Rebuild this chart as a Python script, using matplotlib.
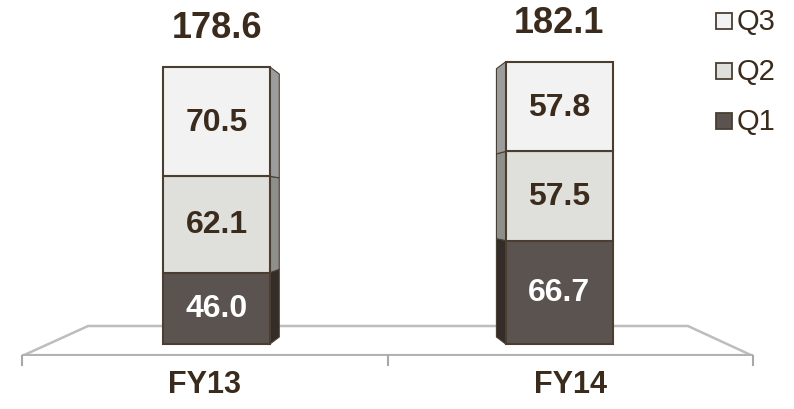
import matplotlib.pyplot as plt
from matplotlib.patches import Polygon

plt.rcParams['font.family'] = ['Liberation Sans', 'DejaVu Sans']

years = ['FY13', 'FY14']
q1 = [46.0, 66.7]
q2 = [62.1, 57.5]
q3 = [70.5, 57.8]
totals = [178.6, 182.1]

txt = '#3b2b1c'
edge = '#4b3d30'
front = {'Q1': '#5b5350', 'Q2': '#dfdfdb', 'Q3': '#f2f2f2'}
side = {'Q1': '#332d2a', 'Q2': '#8e8e8b', 'Q3': '#9c9c9c'}

fig = plt.figure(figsize=(7.94, 4.10), dpi=100)
# axes box in pixels: x 22..753, y 357 (bottom) .. 10 (top)
ax = fig.add_axes([22 / 794, (410 - 357) / 410, 731 / 794, 347 / 410])
ax.set_xlim(-0.568, 1.566)
ax.set_ylim(-7.74, 216)
ax.axis('off')

# floor
floor = Polygon([(-0.568, -7.74), (-0.375, 11.6), (1.376, 11.6), (1.566, -7.74)],
                closed=True, facecolor='white', edgecolor='#bdbdbd', lw=1.8, zorder=1)
ax.add_patch(floor)
ax.plot([-0.568, 1.566], [-7.74, -7.74], color='#b3b1b1', lw=3, zorder=2,
        solid_capstyle='butt')
for xt in [-0.568, 0.499, 1.566]:
    ax.plot([xt, xt], [-7.74, -13.5], color='#a8a8a8', lw=1.5, zorder=2, clip_on=False)

w = 0.312
dx = 0.027
sides = [1, -1]  # FY13 side face on the right, FY14 on the left

for i, yr in enumerate(years):
    segs = [('Q1', q1[i]), ('Q2', q2[i]), ('Q3', q3[i])]
    H = totals[i]
    left = i - w / 2
    right = i + w / 2
    # side face edges
    fx = right if sides[i] > 0 else left
    bx = fx + dx * sides[i]

    def back_y(y):
        return 4.5 + y * (H - 9) / H

    bottom = 0
    for name, v in segs:
        top = bottom + v
        ax.bar(i, v, width=w, bottom=bottom, color=front[name], edgecolor=edge,
               lw=1.5, zorder=4)
        poly = Polygon([(fx, bottom), (bx, back_y(bottom)), (bx, back_y(top)), (fx, top)],
                       closed=True, facecolor=side[name], edgecolor=edge, lw=0.8, zorder=3)
        ax.add_patch(poly)
        col = 'white' if name == 'Q1' else txt
        ax.text(i, bottom + v / 2, f'{v:.1f}', ha='center', va='center', fontsize=23,
                fontweight='bold', color=col, zorder=5)
        bottom = top
    ax.text(i, H + 14, f'{H:.1f}', ha='center', va='bottom', fontsize=26,
            fontweight='bold', color=txt)

# category labels, centred between floor ticks
for xc, yr in zip([-0.035, 1.032], years):
    ax.text(xc, -16, yr, ha='center', va='top', fontsize=22, fontweight='bold',
            color=txt, clip_on=False)

# legend
leg_items = [('Q3', 22), ('Q2', 72), ('Q1', 122)]
for name, ypx in leg_items:
    fig.patches.append(plt.Rectangle((716 / 794, (410 - ypx - 8) / 410), 16 / 794, 16 / 410,
                                     transform=fig.transFigure, facecolor=front[name],
                                     edgecolor=edge, lw=1.3))
    fig.text(737 / 794, (410 - ypx) / 410, name, ha='left', va='center', fontsize=21,
             color=txt)

fig.savefig('out.png', dpi=100)
